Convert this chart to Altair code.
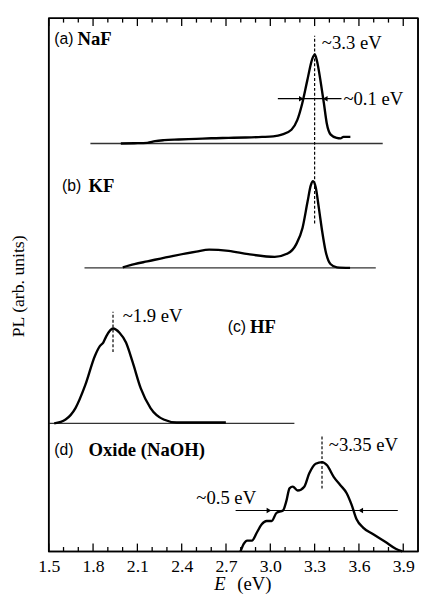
import altair as alt
import pandas as pd

# ---------------- data ----------------
E_naf = [1.988, 2.08, 2.167, 2.22, 2.280, 2.38, 2.499, 2.60, 2.718, 2.83, 2.944, 3.02, 3.077, 3.143, 3.183,
         3.216, 3.250, 3.283, 3.301, 3.316, 3.343, 3.363, 3.382, 3.409, 3.449, 3.475, 3.495, 3.542]
I_naf = [0.0, 0.005, 0.013, 0.045, 0.063, 0.075, 0.087, 0.098, 0.105, 0.112, 0.123, 0.135, 0.166, 0.258, 0.442,
         0.750, 1.179, 1.578, 1.670, 1.547, 1.118, 0.750, 0.381, 0.166, 0.105, 0.095, 0.123, 0.123]

E_kf = [2.001, 2.08, 2.167, 2.345, 2.499, 2.586, 2.718, 2.851, 3.030, 3.117, 3.175, 3.218, 3.252, 3.274,
        3.289, 3.307, 3.329, 3.351, 3.374, 3.407, 3.451, 3.540]
I_kf = [0.011, 0.07, 0.122, 0.227, 0.306, 0.343, 0.319, 0.258, 0.208, 0.269, 0.442, 0.748, 1.239, 1.547,
        1.626, 1.516, 1.116, 0.687, 0.319, 0.074, 0.011, 0.0]

E_hf = [1.537, 1.614, 1.681, 1.747, 1.813, 1.847, 1.869, 1.890, 1.935, 1.979, 2.023, 2.068, 2.123, 2.189,
        2.278, 2.367, 2.699]
I_hf = [0.0, 0.074, 0.289, 0.718, 1.271, 1.455, 1.517, 1.639, 1.781, 1.702, 1.517, 1.149, 0.657, 0.289,
        0.074, 0.018, 0.018]

E_ox = [2.798, 2.820, 2.843, 2.876, 2.909, 2.942, 2.975, 3.009, 3.042, 3.086, 3.108, 3.130, 3.152, 3.185,
        3.230, 3.263, 3.307, 3.351, 3.384, 3.429, 3.473, 3.517, 3.550, 3.584, 3.628, 3.694, 3.783, 3.849, 3.894]
I_ox = [0.0, 0.142, 0.203, 0.203, 0.355, 0.510, 0.571, 0.571, 0.724, 0.768, 0.939, 1.184, 1.215, 1.142,
        1.215, 1.460, 1.645, 1.676, 1.615, 1.400, 1.247, 1.092, 0.878, 0.602, 0.448, 0.326, 0.171, 0.050, 0.0]

spectra = ["a", "b", "c", "d"]
offsets = [7.65, 5.317, 2.400, 0.0]
base_start = [1.782, 1.742, 1.5]
base_end = [3.761, 3.714, 3.163]

peak_E = [3.30, 1.935, 3.35]
peak_lo = [6.151, 3.738, 1.179]
peak_hi = [9.67, 4.494, 2.192]

fwhm_lo = [3.051, 2.765]
fwhm_hi = [3.482, 3.863]
fwhm_y = [8.49, 0.768]
arrow_right_E = [3.21, 2.991]
arrow_left_E = [3.372, 3.612]

note_text = ["~3.3 eV", "~0.1 eV", "~1.9 eV", "~3.35 eV", "~0.5 eV"]
note_E = [3.349, 3.495, 2.001, 3.396, 2.499]
note_y = [9.54, 8.49, 4.42, 1.989, 0.994]

tag_text = ["(a)", "(b)", "(c)", "(d)"]
tag_E = [1.537, 1.590, 2.712, 1.537]
name_text = ["NaF", "KF", "HF", "Oxide (NaOH)"]
name_E = [1.695, 1.769, 2.862, 1.769]
label_y = [9.613, 6.851, 4.199, 1.897]

x_min, x_max = 1.5, 4.0
y_min, y_max = 0.0, 10.0
minor_ticks = [round(1.5 + 0.1 * i, 1) for i in range(25)]
major_ticks = [1.5, 1.8, 2.1, 2.4, 2.7, 3.0, 3.3, 3.6, 3.9]

W, H = 376, 543
SERIF = "Liberation Serif"
SANS = "Liberation Sans"
units_per_px = (y_max - y_min) / H
MAJ = 8 * units_per_px
MIN = 4.5 * units_per_px

# ---------------- frames ----------------
rows = []
for s, off, E, I in zip(spectra, offsets, [E_naf, E_kf, E_hf, E_ox], [I_naf, I_kf, I_hf, I_ox]):
    for e, v in zip(E, I):
        rows.append({"s": s, "E": e, "v": off + v})
curves = pd.DataFrame(rows)

bases = pd.DataFrame({"a": base_start, "b": base_end, "v": offsets[:3]})
peaks = pd.DataFrame({"E": peak_E, "v": peak_lo, "v2": peak_hi})
fwhm = pd.DataFrame({"a": fwhm_lo, "b": fwhm_hi, "v": fwhm_y})
arr_r = pd.DataFrame({"E": arrow_right_E, "v": fwhm_y})
arr_l = pd.DataFrame({"E": arrow_left_E, "v": fwhm_y})
notes = pd.DataFrame({"E": note_E, "v": note_y, "t": note_text})
tags = pd.DataFrame({"E": tag_E, "v": label_y, "t": tag_text})
names = pd.DataFrame({"E": name_E, "v": label_y, "t": name_text})

minor_only = [t for t in minor_ticks if t not in major_ticks]
ticks = pd.DataFrame(
    [{"E": t, "v": y_min, "v2": y_min + MIN} for t in minor_only]
    + [{"E": t, "v": y_min, "v2": y_min + MAJ} for t in major_ticks]
    + [{"E": t, "v": y_max, "v2": y_max - MIN} for t in minor_only]
    + [{"E": t, "v": y_max, "v2": y_max - MAJ} for t in major_ticks]
)
hframe = pd.DataFrame({"a": [x_min, x_min], "b": [x_max, x_max], "v": [y_min, y_max]})
vframe = pd.DataFrame({"E": [x_min, x_max], "v": [y_min, y_min], "v2": [y_max, y_max]})

xs = alt.Scale(domain=[x_min, x_max], nice=False, zero=False)
ys = alt.Scale(domain=[y_min, y_max], nice=False, zero=False)
xaxis = alt.Axis(values=major_ticks, format=".1f", ticks=False, domain=False, grid=False,
                 labelFont=SERIF, labelFontSize=18, labelColor="black", labelPadding=6,
                 title=None, labelFlush=False)


def X(f):
    return alt.X(f, type="quantitative", scale=xs, axis=xaxis)


def Y(f):
    return alt.Y(f, type="quantitative", scale=ys, axis=None)


line = alt.Chart(curves).mark_line(color="black", strokeWidth=2.4, interpolate="monotone").encode(
    x=X("E"), y=Y("v"), detail="s:N")

base = alt.Chart(bases).mark_rule(color="#333333", strokeWidth=1.3).encode(
    x=X("a"), x2="b", y=Y("v"))

dash = alt.Chart(peaks).mark_rule(color="black", strokeWidth=1.2, strokeDash=[3, 2]).encode(
    x=X("E"), y=Y("v"), y2="v2")

fw = alt.Chart(fwhm).mark_rule(color="black", strokeWidth=1.2).encode(
    x=X("a"), x2="b", y=Y("v"))

ar = alt.Chart(arr_r).mark_point(shape="triangle-right", filled=True, color="black", size=30, opacity=1).encode(
    x=X("E"), y=Y("v"))
al = alt.Chart(arr_l).mark_point(shape="triangle-left", filled=True, color="black", size=30, opacity=1).encode(
    x=X("E"), y=Y("v"))

note = alt.Chart(notes).mark_text(font=SERIF, fontSize=19, align="left", baseline="middle", color="black").encode(
    x=X("E"), y=Y("v"), text="t:N")
tag = alt.Chart(tags).mark_text(font=SANS, fontSize=16, align="left", baseline="middle", color="black").encode(
    x=X("E"), y=Y("v"), text="t:N")
name = alt.Chart(names).mark_text(font=SERIF, fontSize=19, fontWeight="bold", align="left", baseline="middle",
                                  color="black").encode(
    x=X("E"), y=Y("v"), text="t:N")

tick = alt.Chart(ticks).mark_rule(color="black", strokeWidth=1.3).encode(
    x=X("E"), y=Y("v"), y2="v2")
fr_h = alt.Chart(hframe).mark_rule(color="black", strokeWidth=1.6).encode(
    x=X("a"), x2="b", y=Y("v"))
fr_v = alt.Chart(vframe).mark_rule(color="black", strokeWidth=1.6).encode(
    x=X("E"), y=Y("v"), y2="v2")

ytitle = alt.Chart(pd.DataFrame({"t": ["PL (arb. units)"]})).mark_text(
    font=SERIF, fontSize=18, angle=270, align="center", baseline="middle", color="black").encode(
    x=alt.value(-30.5), y=alt.value(273), text="t:N")
xt_e = alt.Chart(pd.DataFrame({"t": ["E"]})).mark_text(
    font=SERIF, fontSize=19, fontStyle="italic", align="right", baseline="middle", color="black").encode(
    x=alt.value(180), y=alt.value(576), text="t:N")
xt_u = alt.Chart(pd.DataFrame({"t": ["(eV)"]})).mark_text(
    font=SERIF, fontSize=19, align="left", baseline="middle", color="black").encode(
    x=alt.value(192), y=alt.value(576), text="t:N")

chart = alt.layer(
    base, dash, fw, ar, al, line, note, tag, name,
    tick, fr_h, fr_v, ytitle, xt_e, xt_u
).properties(
    width=W, height=H,
    autosize=alt.AutoSizeParams(type="none"),
    padding={"left": 41.5, "top": 5, "right": 1, "bottom": 40},
    background="white",
).configure_view(stroke="black", strokeWidth=1.6)

chart.save("out.html", embed_options={"renderer": "svg", "actions": False})
